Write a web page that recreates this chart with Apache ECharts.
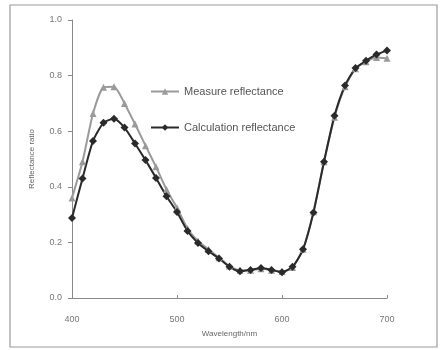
<!DOCTYPE html>
<html>
<head>
<meta charset="utf-8">
<script src="https://cdn.jsdelivr.net/npm/echarts@6/dist/echarts.min.js"></script>
<style>
  html, body { margin: 0; padding: 0; background: #fff; }
  #chart { width: 440px; height: 350px; }
</style>
</head>
<body>
<div id="chart"></div>
<script>
// wavelengths, 400..700 nm every 10 nm
var wavelengths = [400, 410, 420, 430, 440, 450, 460, 470, 480, 490,
                   500, 510, 520, 530, 540, 550, 560, 570, 580, 590,
                   600, 610, 620, 630, 640, 650, 660, 670, 680, 690, 700];
var measured = [0.36, 0.49, 0.664, 0.758, 0.76, 0.70, 0.626, 0.548, 0.472, 0.39,
                0.325, 0.25, 0.205, 0.175, 0.145, 0.115, 0.10, 0.10, 0.105, 0.10,
                0.095, 0.11, 0.175, 0.31, 0.49, 0.65, 0.76, 0.825, 0.85, 0.865, 0.862];
var calculated = [0.288, 0.43, 0.565, 0.63, 0.645, 0.613, 0.556, 0.496, 0.432, 0.366,
                  0.309, 0.241, 0.198, 0.168, 0.142, 0.112, 0.096, 0.101, 0.108, 0.101,
                  0.093, 0.112, 0.175, 0.308, 0.49, 0.656, 0.764, 0.827, 0.853, 0.876, 0.89];
var seriesNames = ['Measure reflectance', 'Calculation reflectance'];

function pairs(vals) {
    return wavelengths.map(function (w, i) { return [w, vals[i]]; });
}

var chart = echarts.init(document.getElementById('chart'));
var option = {
    animation: false,
    backgroundColor: '#fff',
    graphic: [
        {
            type: 'rect',
            shape: { x: 10, y: 5, width: 427, height: 342 },
            style: { fill: 'none', stroke: '#9a9a9a', lineWidth: 1.2 }
        }
    ],
    legend: {
        orient: 'vertical',
        left: 145, top: 81,
        itemGap: 25,
        itemWidth: 28, itemHeight: 8,
        textStyle: { color: '#555', fontSize: 11, fontFamily: 'Liberation Sans' },
        data: seriesNames
    },
    grid: { left: 72, top: 20, right: 53, bottom: 52 },
    xAxis: {
        type: 'value',
        min: 400, max: 700, interval: 100,
        name: 'Wavelength/nm',
        nameLocation: 'middle',
        nameGap: 32,
        nameTextStyle: { color: '#666', fontSize: 8, fontFamily: 'Liberation Sans' },
        axisLine: { lineStyle: { color: '#8a8a8a' } },
        axisTick: { inside: true, length: 3, lineStyle: { color: '#8a8a8a' } },
        axisLabel: { color: '#777', fontSize: 9, margin: 17, fontFamily: 'Liberation Sans' },
        splitLine: { show: false }
    },
    yAxis: {
        type: 'value',
        min: 0, max: 1, interval: 0.2,
        name: 'Reflectance ratio',
        nameLocation: 'middle',
        nameGap: 36,
        nameTextStyle: { color: '#666', fontSize: 8, fontFamily: 'Liberation Sans' },
        axisLine: { show: true, lineStyle: { color: '#8a8a8a' } },
        axisTick: { show: true, length: 4, lineStyle: { color: '#8a8a8a' } },
        axisLabel: {
            color: '#777', fontSize: 9, margin: 10, fontFamily: 'Liberation Sans',
            formatter: function (v) { return v.toFixed(1); }
        },
        splitLine: { show: false }
    },
    series: [
        {
            name: seriesNames[0],
            type: 'line',
            data: pairs(measured),
            smooth: 0.2,
            symbol: 'triangle',
            symbolSize: 7,
            lineStyle: { color: '#9a9a9a', width: 2 },
            itemStyle: { color: '#9a9a9a' }
        },
        {
            name: seriesNames[1],
            type: 'line',
            data: pairs(calculated),
            smooth: 0.2,
            symbol: 'diamond',
            symbolSize: 8,
            lineStyle: { color: '#2a2a2a', width: 2 },
            itemStyle: { color: '#2a2a2a' }
        }
    ]
};
chart.setOption(option);
</script>
</body>
</html>
